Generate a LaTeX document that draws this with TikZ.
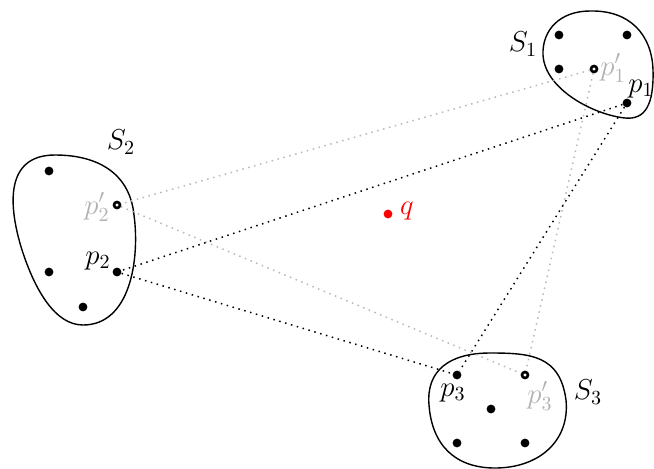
\documentclass[tikz,border=0pt]{standalone}
\begin{document}
\begin{tikzpicture}[x=0.5pt,y=-0.5pt,
  blob/.style={draw=black,line width=0.7pt},
  pt/.style={circle,fill=black,inner sep=0pt,minimum size=4.4pt},
  ptp/.style={circle,draw=black,fill=white,line width=1.3pt,inner sep=0pt,minimum size=3.0pt},
  blk/.style={black,line width=0.75pt,dash pattern=on 0.75pt off 2.3pt},
  gry/.style={black!28,line width=0.75pt,dash pattern=on 0.75pt off 2.3pt},
  lab/.style={inner sep=0pt,font=\Large},
  glab/.style={lab,text=black!30}]
\useasboundingbox (0,0) rectangle (654,468);
% blobs
\draw[blob] (590,11) .. controls (630,10) and (652,35) .. (653,70)
  .. controls (654,105) and (645,120) .. (625,118)
  .. controls (595,115) and (545,90) .. (543,55)
  .. controls (542,30) and (560,11) .. (590,11) -- cycle;
\draw[blob] (55,155) .. controls (100,155) and (130,175) .. (134,215)
  .. controls (140,260) and (130,325) .. (83,325)
  .. controls (55,325) and (35,290) .. (22,250)
  .. controls (8,205) and (5,155) .. (55,155) -- cycle;
\draw[blob] (490,353) .. controls (530,353) and (560,355) .. (566,400)
  .. controls (570,440) and (540,468) .. (495,468)
  .. controls (455,468) and (432,445) .. (429,405)
  .. controls (426,370) and (450,353) .. (490,353) -- cycle;
% points S1
\node[pt] (a1) at (559,35) {};
\node[pt] (a2) at (627,35) {};
\node[pt] (a3) at (559,69) {};
\node[pt] (p1) at (627,103) {};
% points S2
\node[pt] (b1) at (49,171) {};
\node[pt] (b2) at (49,272) {};
\node[pt] (p2) at (117,272) {};
\node[pt] (b3) at (83,307) {};
% points S3
\node[pt] (p3) at (457,375) {};
\node[pt] (c1) at (491,409) {};
\node[pt] (c2) at (457,443) {};
\node[pt] (c3) at (525,443) {};
% primed points
\node[ptp] (q1) at (594,69) {};
\node[ptp] (q2) at (117,205) {};
\node[ptp] (q3) at (525,375) {};
% q
\node[circle,fill=red,inner sep=0pt,minimum size=4.4pt] (q) at (388,214) {};
% connectors
\draw[gry] (q1) -- (q2);
\draw[gry] (q1) -- (q3);
\draw[gry] (q2) -- (q3);
\draw[blk] (p1) -- (p2);
\draw[blk] (p1) -- (p3);
\draw[blk] (p2) -- (p3);
% labels
\node[lab] (lS1) at (523,44) {$S_1$};
\node[lab] (lS2) at (121,142) {$S_2$};
\node[lab] (lS3) at (588,392) {$S_3$};
\node[lab] (lp1) at (641,89) {$p_1$};
\node[lab] (lp2) at (98,261) {$p_2$};
\node[lab] (lp3) at (453,393) {$p_3$};
\node[glab] (lq1) at (613,68) {$p'_1$};
\node[glab] (lq2) at (97,207) {$p'_2$};
\node[glab] (lq3) at (540,396) {$p'_3$};
\node[lab,text=red] (lq) at (407,211) {$q$};
\end{tikzpicture}
\end{document}
